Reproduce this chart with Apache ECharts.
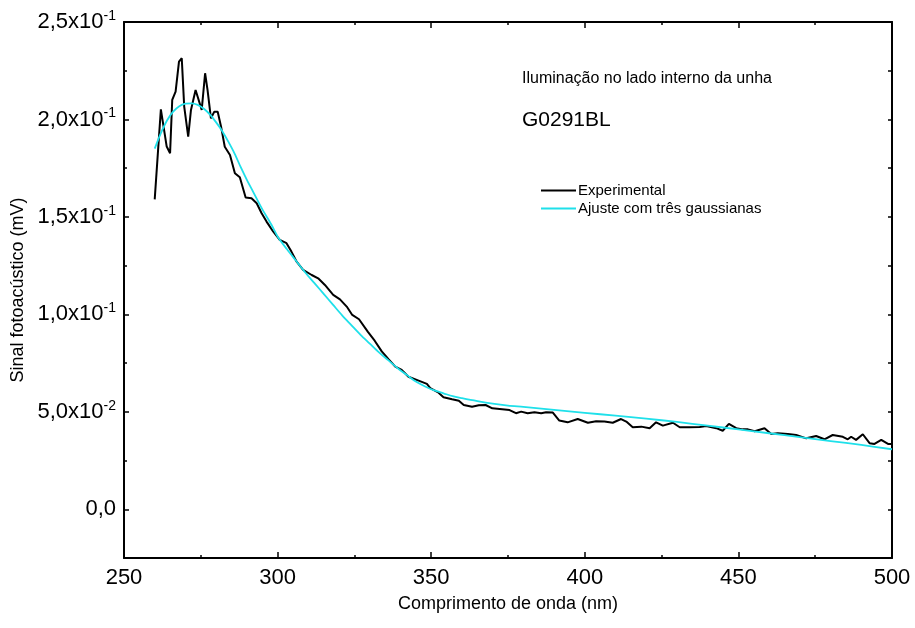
<!DOCTYPE html>
<html>
<head>
<meta charset="utf-8">
<script src="https://cdn.jsdelivr.net/npm/echarts@6/dist/echarts.min.js"></script>
<style>
html,body{margin:0;padding:0;background:#fff;}
#chart{width:915px;height:628px;}
</style>
</head>
<body>
<div id="chart"></div>
<script>
// ---- data ----
const expWl = [260,262.0,263.9,265.0,265.7,266.8,267.9,268.8,269.6,270.9,271.8,273.3,275.3,276.4,277.2,278.3,279.4,280.5,281.6,282.8,284.5,286.1,287.7,289.6,291.5,293.2,294.8,296.4,298.6,300.7,302.9,304.5,306.2,308.3,311.1,313.2,315.4,318.1,320.3,322.5,324.3,326.5,329.4,331.6,333.9,336.1,338.3,340.4,342.6,345.9,348.6,349.7,352.4,354.0,356.8,359.0,360.6,363.3,365.5,367.7,369.9,373.1,375.5,377.6,379.3,381.4,383.6,385.8,387.4,389.6,391.7,394.4,397.7,401.0,403.7,406.4,409.1,411.8,413.5,415.6,418.4,421.1,423.2,425.4,428.7,430.9,434.1,437.4,439.5,442.8,444.9,446.9,449.3,451.4,453.1,455.3,458.5,460.7,462.8,466.1,468.8,472.1,475.3,478.0,480.7,484.0,485.6,486.7,488.3,490.5,492.7,494.3,496.5,498.7,500];
const expVal = [0.159,0.2052,0.1861,0.1827,0.210,0.2143,0.2297,0.2314,0.2066,0.1912,0.2049,0.2151,0.2049,0.2237,0.2151,0.2006,0.204,0.204,0.1963,0.186,0.1818,0.1724,0.1703,0.160,0.1596,0.157,0.1519,0.1476,0.1424,0.1382,0.1365,0.1322,0.127,0.1228,0.1202,0.1185,0.1151,0.110,0.1077,0.104,0.0997,0.0975,0.091,0.0865,0.081,0.077,0.0732,0.0715,0.068,0.066,0.0643,0.0621,0.0598,0.0575,0.0564,0.0557,0.0535,0.0526,0.0534,0.0535,0.0518,0.0513,0.0509,0.0493,0.0501,0.0493,0.0498,0.0493,0.0498,0.0496,0.0455,0.0446,0.0463,0.0444,0.0452,0.045,0.0444,0.0463,0.045,0.0421,0.0424,0.0416,0.0446,0.0429,0.0444,0.0421,0.0421,0.0422,0.0427,0.0416,0.0403,0.0438,0.0416,0.041,0.041,0.040,0.0416,0.0386,0.039,0.0386,0.0381,0.0364,0.0376,0.0359,0.0381,0.0372,0.0359,0.0372,0.0356,0.0385,0.0339,0.0335,0.0356,0.0335,0.0335];

const fitWl = [260,262,264,266,268,270,272,274,276,278,280,282,284,286,288,290,292,295,298,300,303,306,309,312,315,318,321,324,327,330,333,336,339,342,345,348,351,354,357,360,365,370,375,380,390,400,410,420,430,440,450,460,470,480,490,500];
const fitVal = [0.185,0.193,0.1995,0.204,0.2068,0.2081,0.2083,0.2075,0.2055,0.2025,0.1985,0.194,0.1885,0.1825,0.1755,0.169,0.163,0.154,0.146,0.140,0.1335,0.1275,0.1215,0.116,0.1105,0.105,0.0995,0.0945,0.0895,0.085,0.0805,0.0765,0.0725,0.069,0.0655,0.063,0.061,0.0595,0.058,0.057,0.0555,0.0542,0.0532,0.0525,0.051,0.0495,0.048,0.0465,0.0448,0.0429,0.041,0.039,0.037,0.035,0.033,0.0308];

const seriesNames = ['Experimental', 'Ajuste com três gaussianas'];
const xTickLabels = ['250','300','350','400','450','500'];
const yMajorValues = [0, 0.05, 0.10, 0.15, 0.20, 0.25];
const yTickLabels = ['0,0', '5,0x10^-2', '1,0x10^-1', '1,5x10^-1', '2,0x10^-1', '2,5x10^-1'];
const yMinorValues = [-0.025, 0.025, 0.075, 0.125, 0.175, 0.225];
const yAllValues = [-0.025, 0, 0.025, 0.05, 0.075, 0.1, 0.125, 0.15, 0.175, 0.2, 0.225, 0.25];
const annotation1 = 'Iluminação no lado interno da unha';
const annotation2 = 'G0291BL';

// ---- chart ----
const FONT = '"Liberation Sans", Arial, sans-serif';
function yLabel(v) {
  for (let i = 0; i < yMajorValues.length; i++) {
    if (Math.abs(v - yMajorValues[i]) < 1e-6) {
      const t = yTickLabels[i];
      const p = t.indexOf('^');
      return p < 0 ? t : t.slice(0, p) + '{s|' + t.slice(p + 1) + '}';
    }
  }
  return '';
}
const expData = expWl.map((x, i) => [x, expVal[i]]);
const fitData = fitWl.map((x, i) => [x, fitVal[i]]);
const colors = ['#000000', '#1fe0ea'];

const axisLine = { show: true, onZero: false, lineStyle: { color: '#000', width: 2 } };
const chart = echarts.init(document.getElementById('chart'), null, { renderer: 'canvas' });
chart.setOption({
  animation: false,
  backgroundColor: '#fff',
  textStyle: { fontFamily: FONT },
  grid: { left: 124, right: 23, top: 22, bottom: 70, containLabel: false },
  legend: {
    orient: 'vertical', left: 536, top: 178, padding: 5,
    itemWidth: 35, itemHeight: 2, itemGap: 3, icon: 'rect',
    textStyle: { fontFamily: FONT, fontSize: 15, color: '#000', padding: [0, 0, 0, -3] },
    data: seriesNames.map((n, i) => ({ name: n, icon: 'rect', itemStyle: { color: colors[i] } }))
  },
  xAxis: [{
    type: 'value', position: 'bottom', min: 250, max: 500, interval: 50,
    name: 'Comprimento de onda (nm)', nameLocation: 'middle', nameGap: 37,
    nameTextStyle: { fontFamily: FONT, fontSize: 18, color: '#000' },
    axisLine: axisLine,
    axisTick: { inside: true, length: 6, lineStyle: { color: '#000', width: 1.5 } },
    minorTick: { show: true, splitNumber: 2, length: 3, lineStyle: { color: '#000', width: 1.5 } },
    axisLabel: { fontFamily: FONT, fontSize: 22, color: '#000', margin: 9,
      formatter: v => xTickLabels[Math.round((v - 250) / 50)] || '' },
    splitLine: { show: false }
  }, {
    type: 'value', position: 'top', min: 250, max: 500, interval: 50,
    axisLine: axisLine,
    axisTick: { inside: true, length: 6, lineStyle: { color: '#000', width: 1.5 } },
    minorTick: { show: true, splitNumber: 2, length: 3, lineStyle: { color: '#000', width: 1.5 } },
    axisLabel: { show: false }, splitLine: { show: false }
  }],
  yAxis: [{
    type: 'value', position: 'left', min: -0.025, max: 0.25, interval: 0.025,
    name: 'Sinal fotoacústico (mV)', nameLocation: 'middle', nameGap: 94,
    nameTextStyle: { fontFamily: FONT, fontSize: 18, color: '#000' },
    axisLine: axisLine,
    axisTick: { inside: true, length: 5, customValues: yMajorValues, lineStyle: { color: '#000', width: 1.5 } },
    axisLabel: { fontFamily: FONT, fontSize: 22, color: '#000', margin: 8,
      customValues: yMajorValues,
      formatter: yLabel,
      rich: { s: { fontFamily: FONT, fontSize: 14, color: '#000', padding: [0, 0, 12, 0] } } },
    splitLine: { show: false }
  }, {
    type: 'value', position: 'left', min: -0.025, max: 0.25, interval: 0.025,
    axisLine: { show: false },
    axisTick: { inside: true, length: 3, customValues: yMinorValues, lineStyle: { color: '#000', width: 1.5 } },
    axisLabel: { show: false }, splitLine: { show: false }
  }, {
    type: 'value', position: 'right', min: -0.025, max: 0.25, interval: 0.025,
    axisLine: axisLine,
    axisTick: { inside: true, length: 4, customValues: yAllValues, lineStyle: { color: '#000', width: 1.5 } },
    axisLabel: { show: false }, splitLine: { show: false }
  }],
  graphic: [
    { type: 'text', left: 522, top: 71, style: { text: annotation1, font: '16px ' + FONT, fill: '#000' } },
    { type: 'text', left: 522, top: 110, style: { text: annotation2, font: '21px ' + FONT, fill: '#000' } }
  ],
  series: [{
    name: seriesNames[0], type: 'line', xAxisIndex: 0, yAxisIndex: 0,
    data: expData, showSymbol: false, symbol: 'none',
    lineStyle: { color: colors[0], width: 2 }, itemStyle: { color: colors[0] }, z: 2
  }, {
    name: seriesNames[1], type: 'line', xAxisIndex: 0, yAxisIndex: 0,
    data: fitData, smooth: 0.3, showSymbol: false, symbol: 'none',
    lineStyle: { color: colors[1], width: 1.8 }, itemStyle: { color: colors[1] }, z: 3
  }]
});
</script>
</body>
</html>
